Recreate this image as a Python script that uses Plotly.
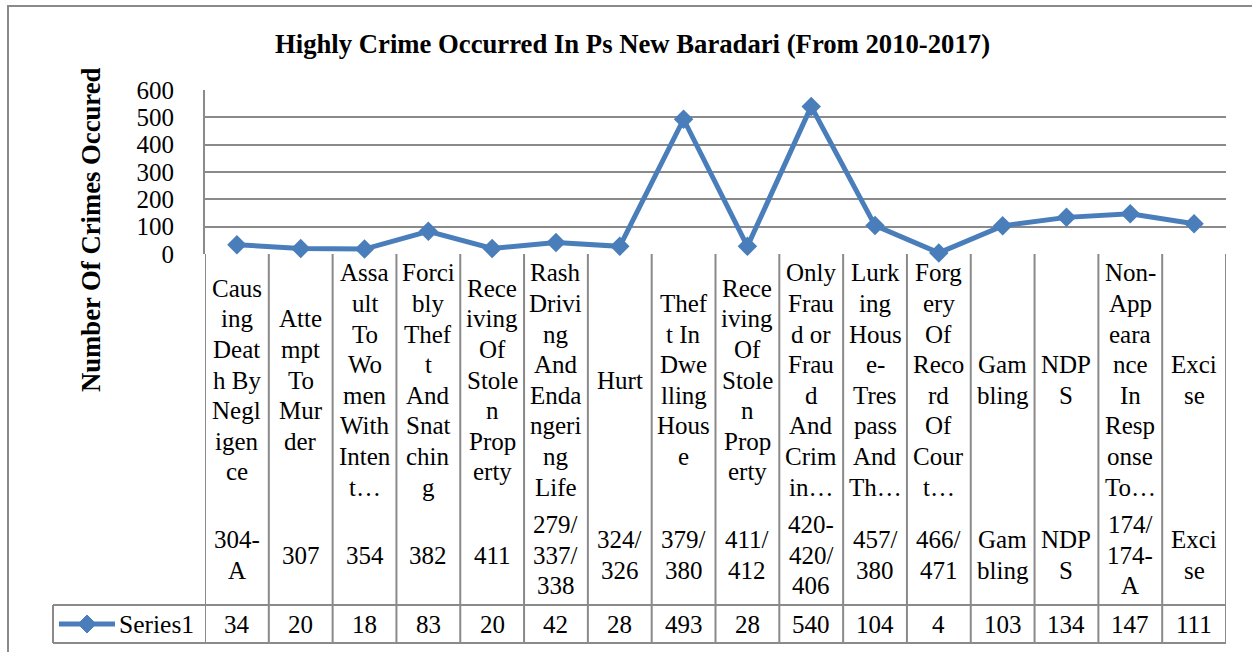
import plotly.graph_objects as go

# ---------------- data ----------------
categories = [
    "Caus|ing|Deat|h By|Negl|igen|ce",
    "Atte|mpt|To|Mur|der",
    "Assa|ult|To|Wo|men|With|Inten|t…",
    "Forci|bly|Thef|t|And|Snat|chin|g",
    "Rece|iving|Of|Stole|n|Prop|erty",
    "Rash|Drivi|ng|And|Enda|ngeri|ng|Life",
    "Hurt",
    "Thef|t In|Dwe|lling|Hous|e",
    "Rece|iving|Of|Stole|n|Prop|erty",
    "Only|Frau|d or|Frau|d|And|Crim|in…",
    "Lurk|ing|Hous|e-|Tres|pass|And|Th…",
    "Forg|ery|Of|Reco|rd|Of|Cour|t…",
    "Gam|bling",
    "NDP|S",
    "Non-|App|eara|nce|In|Resp|onse|To…",
    "Exci|se",
]
sections = [
    "304-|A", "307", "354", "382", "411", "279/|337/|338", "324/|326",
    "379/|380", "411/|412", "420-|420/|406", "457/|380", "466/|471",
    "Gam|bling", "NDP|S", "174/|174-|A", "Exci|se",
]
values = [34, 20, 18, 83, 20, 42, 28, 493, 28, 540, 104, 4, 103, 134, 147, 111]
series_name = "Series1"
y_ticks = [0, 100, 200, 300, 400, 500, 600]
title = "Highly Crime Occurred In Ps New Baradari (From 2010-2017)"
y_title = "Number Of Crimes Occured"

# ---------------- layout geometry (pixels) ----------------
W, H = 1252, 652
PL, PR, PT, PB = 205, 1226, 90, 254   # plot area box


def px(x):
    return (x - PL) / (PR - PL)


def py(y):
    return (PB - y) / (PB - PT)


FONT = "Liberation Serif, Times New Roman, serif"
BLUE = "#4a7ebb"
GRID = "#8a8a8a"
FS = 25
LINE_H = 30.6

n = len(values)
xs = list(range(n))

fig = go.Figure()
fig.add_trace(go.Scatter(
    x=xs, y=values, mode="lines+markers", name=series_name,
    line=dict(color=BLUE, width=5),
    marker=dict(symbol="diamond", size=15, color=BLUE),
    showlegend=False, cliponaxis=False,
))

shapes = []
annotations = []

# outer chart border
shapes.append(dict(type="rect", xref="paper", yref="paper",
                   x0=px(8), x1=px(1262), y0=py(662), y1=py(6),
                   line=dict(color=GRID, width=2), layer="below"))

# table vertical lines at category boundaries
for i in range(n + 1):
    shapes.append(dict(type="line", xref="x", yref="paper",
                       x0=i - 0.5, x1=i - 0.5, y0=py(PB), y1=py(643),
                       line=dict(color=GRID, width=2)))
# series row horizontal lines and left edge
for yy in (605, 643):
    shapes.append(dict(type="line", xref="paper", yref="paper",
                       x0=px(53), x1=px(PR), y0=py(yy), y1=py(yy),
                       line=dict(color=GRID, width=2)))
shapes.append(dict(type="line", xref="paper", yref="paper",
                   x0=px(53), x1=px(53), y0=py(605), y1=py(643),
                   line=dict(color=GRID, width=2)))

# legend key in the table
shapes.append(dict(type="line", xref="paper", yref="paper",
                   x0=px(59), x1=px(115), y0=py(624), y1=py(624),
                   line=dict(color=BLUE, width=5)))
cx, cy, r = 87, 624, 9
shapes.append(dict(type="path", xref="paper", yref="paper",
                   path=f"M {px(cx - r)} {py(cy)} L {px(cx)} {py(cy - r)} "
                        f"L {px(cx + r)} {py(cy)} L {px(cx)} {py(cy + r)} Z",
                   fillcolor=BLUE, line=dict(color=BLUE, width=1)))
annotations.append(dict(xref="paper", yref="paper", x=px(117), y=py(624),
                        text=series_name, showarrow=False, xanchor="left",
                        yanchor="middle", font=dict(family=FONT, size=25.5, color="black")))


def cell_text(i, text, yc):
    lines = text.split("|")
    k = len(lines)
    for j, t in enumerate(lines):
        yy = yc + (j - (k - 1) / 2) * LINE_H
        annotations.append(dict(xref="x", yref="paper", x=i, y=py(yy), text=t,
                                showarrow=False, xanchor="center", yanchor="middle",
                                font=dict(family=FONT, size=FS, color="black")))


for i in range(n):
    cell_text(i, categories[i], 380)
    cell_text(i, sections[i], 555)
    cell_text(i, str(values[i]), 624)

# title and axis title
annotations.append(dict(xref="paper", yref="paper", x=px(632), y=py(44), text=f"<b>{title}</b>",
                        showarrow=False, xanchor="center", yanchor="middle",
                        font=dict(family=FONT, size=26.7, color="black")))
annotations.append(dict(xref="paper", yref="paper", x=px(91), y=py(230), text=f"<b>{y_title}</b>",
                        showarrow=False, xanchor="center", yanchor="middle", textangle=-90,
                        font=dict(family=FONT, size=26.7, color="black")))

fig.update_layout(
    width=W, height=H,
    margin=dict(l=PL, r=W - PR, t=PT, b=H - PB, pad=0),
    paper_bgcolor="white", plot_bgcolor="white",
    xaxis=dict(range=[-0.5, n - 0.5], showgrid=False, zeroline=False,
               showticklabels=False, ticks="", showline=False, fixedrange=True),
    yaxis=dict(range=[0, 600], tickvals=y_ticks, showgrid=True, gridcolor=GRID, gridwidth=2,
               zeroline=False, showline=True, linecolor=GRID, linewidth=2,
               ticks="", ticklabelstandoff=24,
               tickfont=dict(family=FONT, size=FS, color="black"), fixedrange=True),
    shapes=shapes, annotations=annotations, showlegend=False,
)

fig.write_html("out.html", config={"displayModeBar": False},
               post_script="document.body.style.margin='0';document.body.style.overflow='hidden';")
